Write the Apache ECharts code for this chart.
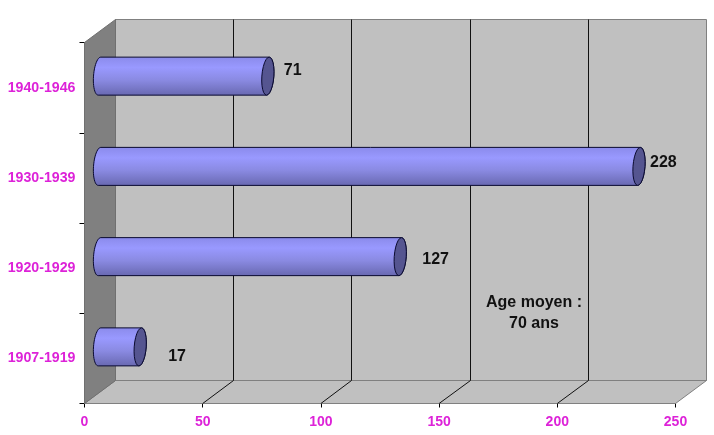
<!DOCTYPE html>
<html>
<head>
<meta charset="utf-8">
<style>html,body{margin:0;padding:0;background:#fff}#c{width:714px;height:435px}</style>
<script src="https://cdn.jsdelivr.net/npm/echarts@6/dist/echarts.min.js"></script>
</head>
<body>
<div id="c"></div>
<script>
var categories = ['1907-1919', '1920-1929', '1930-1939', '1940-1946'];
var values = [17, 127, 228, 71];
var xTicks = [0, 50, 100, 150, 200, 250];
var noteText = 'Age moyen :\n70 ans';

// Hand-placed value labels in the original, offset from the bar end.
var labelNudgeX = [43.5, 37.5, 26.5, 31.5];
var labelNudgeY = [10, 3, -4, -6];

var DX = 31, DY = -23;          // depth of the 3D box
var BAR_H = 19, CAP_A = 6, CAP_S = 1.3;
var TEXT_COLOR = '#dd22d8';
var FONT = '"Liberation Sans", Arial, sans-serif';

function arc(cx, cy, b, from, to, a) {
  var pts = [], n = 24;
  for (var i = 0; i <= n; i++) {
    var t = (from + (to - from) * i / n) * Math.PI / 180;
    pts.push([cx + a * Math.cos(t) - CAP_S * Math.sin(t), cy + b * Math.sin(t)]);
  }
  return pts;
}

function renderFrame(params, api) {
  var g = params.coordSys, x = g.x, y = g.y, w = g.width, h = g.height;
  return {
    type: 'group',
    children: [
      { type: 'polygon', shape: { points: [[x + DX, y + DY], [x + w + DX, y + DY], [x + w + DX, y + h + DY], [x + DX, y + h + DY]] },
        style: { fill: '#c0c0c0', stroke: '#808080', lineWidth: 1 } },
      { type: 'polygon', shape: { points: [[x, y + h], [x + DX, y + h + DY], [x + w + DX, y + h + DY], [x + w, y + h]] },
        style: { fill: '#c0c0c0', stroke: '#808080', lineWidth: 1 } },
      { type: 'polygon', shape: { points: [[x, y], [x + DX, y + DY], [x + DX, y + h + DY], [x, y + h]] },
        style: { fill: '#808080', stroke: '#707070', lineWidth: 1 } }
    ]
  };
}

function renderGridline(params, api) {
  var g = params.coordSys;
  var px = api.coord([api.value(0), 0])[0];
  var bottom = g.y + g.height;
  var back = Math.floor(px + DX) + 0.5;
  return {
    type: 'polyline',
    shape: { points: [[px, bottom], [back, bottom + DY], [back, g.y + DY]] },
    style: { fill: null, stroke: '#111', lineWidth: 1 }
  };
}

function renderBar(params, api) {
  var v = api.value(0), idx = api.value(1);
  var p0 = api.coord([0, idx]), p1 = api.coord([v, idx]);
  var cy = p0[1] + DY / 2;
  var x0 = p0[0] + DX / 2 - 0.5, x1 = p1[0] + DX / 2;
  var body = arc(x0, cy, BAR_H, 90, 270, CAP_A).concat(arc(x1, cy, BAR_H, -90, 90, CAP_A));
  var cap = arc(x1, cy, BAR_H, 0, 360, CAP_A);
  return {
    type: 'group',
    children: [
      { type: 'polygon', shape: { points: body },
        style: {
          fill: new echarts.graphic.LinearGradient(0, 0, 0, 1, [
            { offset: 0, color: '#8a8aea' },
            { offset: 0.28, color: '#9999ff' },
            { offset: 0.6, color: '#8a8ae2' },
            { offset: 1, color: '#6868b0' }
          ]),
          stroke: '#0a0a30', lineWidth: 1
        } },
      { type: 'polygon', shape: { points: cap },
        style: { fill: '#555590', stroke: '#0a0a30', lineWidth: 1 } },
      { type: 'text',
        style: {
          x: p1[0] + labelNudgeX[params.dataIndex],
          y: p1[1] + DY / 2 + labelNudgeY[params.dataIndex],
          text: String(v), fill: '#111', font: 'bold 16px ' + FONT,
          textAlign: 'left', textVerticalAlign: 'middle'
        } }
    ]
  };
}

var chart = echarts.init(document.getElementById('c'), null, { renderer: 'canvas' });
chart.setOption({
  animation: false,
  backgroundColor: '#ffffff',
  tooltip: { show: false },
  grid: { left: 84.5, top: 42.5, width: 591, height: 361, containLabel: false },
  xAxis: {
    type: 'value', min: 0, max: 250, interval: 50,
    axisLine: { show: true, onZero: false, lineStyle: { color: '#000', width: 1 } },
    axisTick: { show: true, length: 4, lineStyle: { color: '#000' } },
    axisLabel: { color: TEXT_COLOR, fontFamily: FONT, fontWeight: 'bold', fontSize: 14, margin: 12 },
    splitLine: { show: false }
  },
  yAxis: {
    type: 'category', data: categories,
    axisLine: { show: true, lineStyle: { color: '#444', width: 1 } },
    axisTick: { show: true, length: 5, lineStyle: { color: '#000' } },
    axisLabel: { color: TEXT_COLOR, fontFamily: FONT, fontWeight: 'bold', fontSize: 14.2, margin: 9, padding: [1, 0, 0, 0] },
    splitLine: { show: false }
  },
  graphic: [{
    type: 'text', left: 486, top: 292, z: 50,
    style: { text: noteText, fill: '#111', font: 'bold 16px ' + FONT, align: 'center', textAlign: 'center', lineHeight: 21 }
  }],
  series: [
    { type: 'custom', name: 'frame', z: 1, silent: true, clip: false, renderItem: renderFrame, data: [[0, 0]], encode: { x: 0, y: 1 } },
    { type: 'custom', name: 'gridlines', z: 2, silent: true, clip: false, renderItem: renderGridline,
      data: xTicks.slice(1, -1).map(function (t) { return [t, 0]; }), encode: { x: 0, y: 1 } },
    { type: 'custom', name: 'bars', z: 3, silent: true, clip: false, renderItem: renderBar,
      data: values.map(function (v, i) { return [v, i]; }), encode: { x: 0, y: 1 } }
  ]
});
</script>
</body>
</html>
